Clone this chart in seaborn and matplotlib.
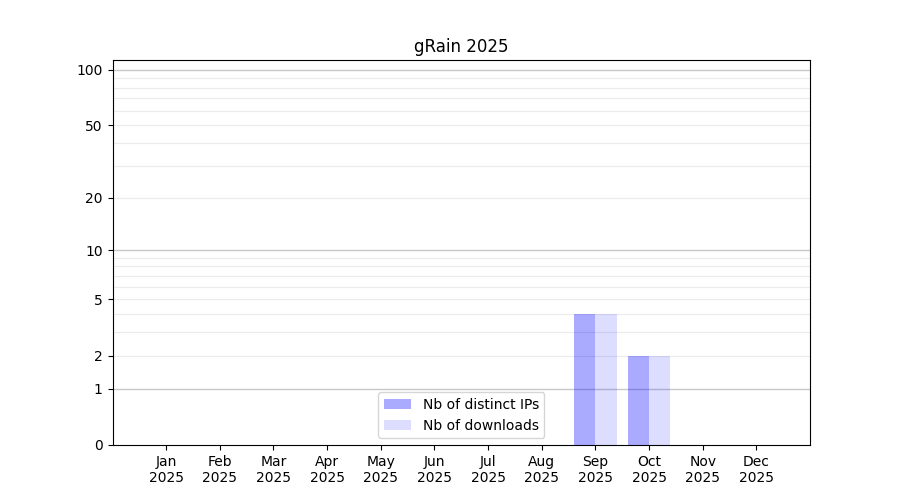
import numpy as np
import pandas as pd
import matplotlib
matplotlib.use("Agg")
import matplotlib.pyplot as plt
from matplotlib.ticker import NullLocator
import seaborn as sns

months = ["Jan", "Feb", "Mar", "Apr", "May", "Jun", "Jul", "Aug", "Sep", "Oct", "Nov", "Dec"]
year = "2025"
distinct_ips = [0, 0, 0, 0, 0, 0, 0, 0, 4, 2, 0, 0]
downloads = [0, 0, 0, 0, 0, 0, 0, 0, 4, 2, 0, 0]
series_names = ["Nb of distinct IPs", "Nb of downloads"]
series_alpha = [0.333, 0.133]
ytick_vals = [0, 1, 2, 5, 10, 20, 50, 100]
minor_grid = [2, 3, 4, 5, 6, 7, 8, 9, 20, 30, 40, 50, 60, 70, 80, 90]
major_grid = [1, 10, 100]

labels = [f"{m}\n{year}" for m in months]
df = pd.DataFrame({
    "month": labels * 2,
    "value": distinct_ips + downloads,
    "series": [series_names[0]] * 12 + [series_names[1]] * 12,
})

fig, ax = plt.subplots(figsize=(9, 5), dpi=100)
ax.set_yscale("function", functions=(lambda x: np.log10(np.clip(x, 0, None) + 1),
                                     lambda y: 10 ** y - 1))
sns.barplot(data=df, x="month", y="value", hue="series", order=labels,
            hue_order=series_names, palette=["blue", "blue"],
            saturation=1, width=0.8, ax=ax, linewidth=0, zorder=3,
            errorbar=None, legend=False)
for cont, a in zip(ax.containers, series_alpha):
    for p in cont.patches:
        p.set_facecolor((0, 0, 1, a))
        p.set_edgecolor("none")

ax.set_xlim(-1, 12)
ax.set_ylim(0, 113)
ax.set_yticks(ytick_vals)
ax.set_yticklabels([str(v) for v in ytick_vals])
ax.yaxis.set_minor_locator(NullLocator())
ax.xaxis.set_minor_locator(NullLocator())

for v in minor_grid:
    ax.axhline(v, color="#ebebeb", lw=0.8, zorder=1)
for v in major_grid:
    ax.axhline(v, color="#c8c8c8", lw=1, zorder=1)
for sp in ax.spines.values():
    sp.set_zorder(5)

ax.set_xlabel("")
ax.set_ylabel("")
ax.set_title("gRain 2025")
ax.legend(ax.containers, series_names, loc="lower center").set_zorder(6)
fig.savefig("out.png", dpi=100)
